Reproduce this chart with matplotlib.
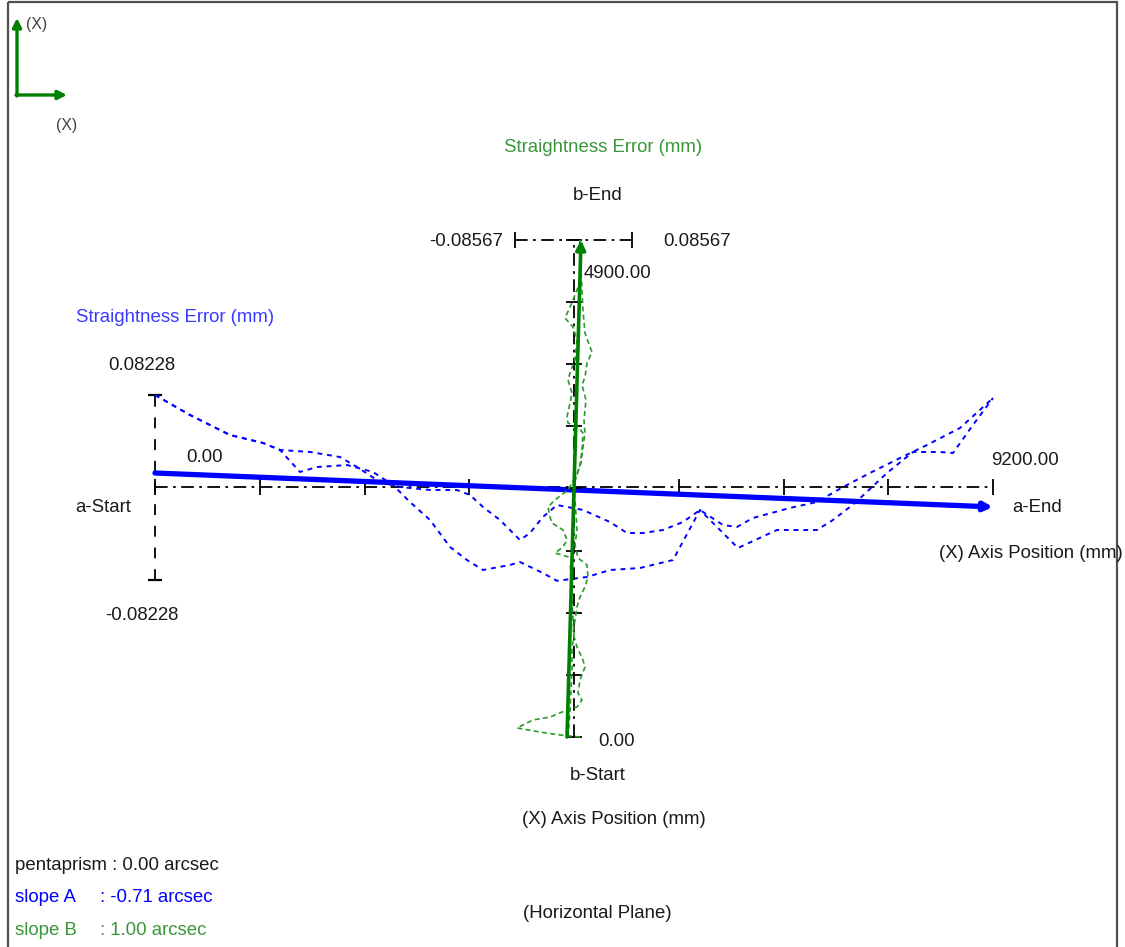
import matplotlib.pyplot as plt
from matplotlib.patches import Rectangle

# ---- axis a (horizontal): position (mm) and straightness error (mm)
a_len = 9200.0
a_range = 0.08228
a_ticks = 8
a_run1_pos = [0, 384, 823, 1186, 1372, 1592, 1778, 2108, 2393, 2613, 2799, 3019, 3239, 3425,
              3601, 3897, 4007, 4259, 4413, 4743, 4995, 5324, 5687, 5983, 6400, 6828, 7267,
              7443, 7685, 8036, 8322, 8618, 8761, 8980, 9200]
a_run1_err = [0.0823, 0.0645, 0.0467, 0.0396, 0.0334, 0.0138, 0.0182, 0.0200, 0.0138, 0.0022,
              -0.0129, -0.0289, -0.0529, -0.0645, -0.0734, -0.0689, -0.0663, -0.0761, -0.0830,
              -0.0796, -0.0734, -0.0716, -0.0645, -0.0200, -0.0538, -0.0378, -0.0378, -0.0289,
              -0.0138, 0.0129, 0.0316, 0.0316, 0.0307, 0.0556, 0.0796]
a_run2_pos = [0, 384, 823, 1186, 1372, 1702, 2031, 2218, 2470, 2690, 3019, 3315, 3458, 3601,
              3787, 4007, 4117, 4259, 4413, 4699, 4995, 5182, 5357, 5577, 5796, 5983, 6236,
              6389, 6565, 6971, 7267, 7553, 7849, 8179, 8475, 8837, 9200]
a_run2_err = [0.0823, 0.0645, 0.0467, 0.0396, 0.0334, 0.0316, 0.0271, 0.0182, 0.0049, 0.0004,
              -0.0022, -0.0022, -0.0067, -0.0173, -0.0289, -0.0467, -0.0405, -0.0262, -0.0156,
              -0.0200, -0.0307, -0.0405, -0.0405, -0.0378, -0.0307, -0.0200, -0.0334, -0.0351,
              -0.0271, -0.0182, -0.0129, 0.0004, 0.0129, 0.0262, 0.0378, 0.0529, 0.0796]
a_fit = [0.0129, -0.0173]

# ---- axis b (vertical)
b_len = 4900.0
b_range = 0.08567
b_ticks = 8
b_run1_pos = [0, 20, 49, 89, 168, 197, 266, 296, 365, 434, 562, 690, 759, 887, 1025, 1154,
              1282, 1380, 1479, 1577, 1696, 1765, 1893, 2041, 2189, 2337, 2465, 2563, 2701,
              2859, 2997, 3125, 3323, 3470, 3549, 3687, 3796, 3845, 3983, 4210, 4407, 4604, 4900]
b_run1_err = [0.0095, -0.0198, -0.0491, -0.0828, -0.0593, -0.0344, -0.0095, 0.0051, 0.0124,
              0.0066, 0.0095, 0.0168, 0.0139, 0.0051, -0.0007, 0.0022, 0.0051, 0.0095, 0.0168,
              0.0212, 0.0198, 0.0066, 0.0022, 0.0051, 0.0037, 0.0022, 0.0007, 0.0037, 0.0110,
              0.0139, 0.0168, 0.0154, 0.0183, 0.0124, 0.0168, 0.0198, 0.0271, 0.0242, 0.0168,
              0.0139, 0.0124, 0.0110, 0.0095]
b_run2_pos = [0, 118, 266, 463, 661, 858, 1025, 1154, 1351, 1548, 1696, 1765, 1814, 1873, 1942,
              2041, 2110, 2169, 2268, 2337, 2435, 2504, 2583, 2682, 2830, 2997, 3056, 3096, 3155,
              3293, 3392, 3520, 3618, 3717, 3914, 4042, 4131, 4239, 4308, 4407, 4476, 4653, 4900]
b_run2_err = [-0.0081, -0.0066, -0.0051, -0.0037, -0.0022, -0.0022, 0.0007, -0.0007, -0.0022,
              -0.0022, -0.0051, -0.0022, -0.0271, -0.0154, -0.0095, -0.0154, -0.0315, -0.0344,
              -0.0373, -0.0271, -0.0081, -0.0022, 0.0051, 0.0095, 0.0124, 0.0139, 0.0066,
              -0.0081, -0.0095, -0.0051, -0.0022, -0.0081, -0.0037, 0.0022, 0.0051, -0.0007,
              -0.0124, -0.0051, -0.0007, 0.0051, 0.0095, 0.0095, 0.0095]
b_fit = [-0.0095, 0.0110]

pentaprism = 0.00
slope_a = -0.71
slope_b = 1.00

plt.rcParams['font.family'] = ['Liberation Sans', 'DejaVu Sans']
FS = 13.4
DARK = '#1a1a1a'
BLUE = '#0000ff'
BLUE_TXT = '#3a3aff'
GREEN = '#008000'
GREEN_DASH = '#2a9a2a'
GREEN_TXT = '#3a963a'

W, H = 1125, 947
fig = plt.figure(figsize=(W / 100, H / 100), dpi=100)

# background / frame and orientation icon in pixel space
bg = fig.add_axes([0, 0, 1, 1])
bg.set_xlim(0, W)
bg.set_ylim(H, 0)
bg.axis('off')
bg.add_patch(Rectangle((8, 2), 1109, 1000, fill=False, ec='#505050', lw=1.6))
arrow_kw = dict(arrowstyle='-|>', color=GREEN, lw=2.4, mutation_scale=13, shrinkA=0, shrinkB=0)
bg.annotate('', xy=(17, 18), xytext=(17, 96), arrowprops=arrow_kw)
bg.annotate('', xy=(67, 95), xytext=(16, 95), arrowprops=arrow_kw)
bg.text(26, 24, '(X)', fontsize=FS * 0.85, color='#404040', va='center', ha='left')
bg.text(67, 125, '(X)', fontsize=FS * 0.85, color='#404040', va='center', ha='center')


def fx(x):
    return x / W


def fy(y):
    return 1 - y / H


# ---- axis a
ax_a = fig.add_axes([fx(155), fy(580), (993 - 155) / W, (580 - 395) / H])
ax_a.set_xlim(0, a_len)
ax_a.set_ylim(-a_range, a_range)
ax_a.axis('off')

a_tick_pos = [i * a_len / a_ticks for i in range(a_ticks + 1)]
ax_a.plot([0, a_len], [0, 0], color='black', lw=1.3, dashes=(7, 3, 1.5, 3), clip_on=False)
ax_a.plot(a_tick_pos, [0] * len(a_tick_pos), ls='none', marker='|', ms=12, mew=1.3,
          color='black', clip_on=False)
ax_a.plot([0, 0], [-a_range, a_range], color='black', lw=1.3, dashes=(6, 6), clip_on=False)
ax_a.plot([0, 0], [-a_range, a_range], ls='none', marker='_', ms=10, mew=1.6,
          color='black', clip_on=False)

ax_a.plot(a_run1_pos, a_run1_err, color=BLUE, lw=1.4, dashes=(2.5, 2.5), clip_on=False)
ax_a.plot(a_run2_pos, a_run2_err, color=BLUE, lw=1.4, dashes=(2.5, 2.5), clip_on=False)
ax_a.annotate('', xy=(a_len, a_fit[1]), xytext=(0, a_fit[0]), annotation_clip=False,
              arrowprops=dict(arrowstyle='-|>', color=BLUE, lw=3.8, mutation_scale=12,
                              shrinkA=0, shrinkB=0))


def label(ax, xy, off, s, color=DARK, ha='center'):
    ax.annotate(s, xy=xy, xytext=off, textcoords='offset pixels', fontsize=FS, color=color,
                ha=ha, va='center', annotation_clip=False)


label(ax_a, (0, a_range), (20, 77), 'Straightness Error (mm)', BLUE_TXT)
label(ax_a, (0, a_range), (-13, 29), f'{a_range:.5f}')
label(ax_a, (0, -a_range), (-13, -35), f'{-a_range:.5f}')
label(ax_a, (0, a_fit[0]), (50, 15), f'{0:.2f}')
label(ax_a, (a_len, 0), (32, 27), f'{a_len:.2f}')
label(ax_a, (0, 0), (-52, -20), 'a-Start')
label(ax_a, (a_len, 0), (44, -20), 'a-End')
label(ax_a, (a_len, 0), (38, -66), '(X) Axis Position (mm)')

# ---- axis b
ax_b = fig.add_axes([fx(515), fy(737), (632 - 515) / W, (737 - 240) / H])
ax_b.set_xlim(-b_range, b_range)
ax_b.set_ylim(0, b_len)
ax_b.axis('off')

b_tick_pos = [i * b_len / b_ticks for i in range(b_ticks + 1)]
ax_b.plot([0, 0], [0, b_len], color='black', lw=1.3, dashes=(7, 3, 1.5, 3), clip_on=False)
ax_b.plot([0] * len(b_tick_pos), b_tick_pos, ls='none', marker='_', ms=12, mew=1.3,
          color='black', clip_on=False)
ax_b.plot([-b_range, b_range], [b_len, b_len], color='black', lw=1.3, dashes=(7, 3, 1.5, 3),
          clip_on=False)
ax_b.plot([-b_range, b_range], [b_len, b_len], ls='none', marker='|', ms=12, mew=1.3,
          color='black', clip_on=False)

ax_b.plot(b_run1_err, b_run1_pos, color=GREEN_DASH, lw=1.2, dashes=(3, 2), clip_on=False)
ax_b.plot(b_run2_err, b_run2_pos, color=GREEN_DASH, lw=1.2, dashes=(3, 2), clip_on=False)
ax_b.annotate('', xy=(b_fit[1], b_len), xytext=(b_fit[0], 0), annotation_clip=False,
              arrowprops=dict(arrowstyle='-|>', color=GREEN, lw=2.6, mutation_scale=14,
                              shrinkA=0, shrinkB=0))

label(ax_b, (0, b_len), (30, 92), 'Straightness Error (mm)', GREEN_TXT)
label(ax_b, (0, b_len), (24, 45), 'b-End')
label(ax_b, (-b_range, b_len), (-49, -2), f'{-b_range:.5f}')
label(ax_b, (b_range, b_len), (65, -2), f'{b_range:.5f}')
label(ax_b, (0, b_len), (10, -33), f'{b_len:.2f}', ha='left')
label(ax_b, (0, 0), (43, -5), f'{0:.2f}')
label(ax_b, (0, 0), (24, -39), 'b-Start')
label(ax_b, (0, 0), (40, -83), '(X) Axis Position (mm)')

# ---- footer
fig.text(fx(15), fy(865), f'pentaprism : {pentaprism:.2f} arcsec', fontsize=FS, color=DARK,
         va='center')
fig.text(fx(15), fy(897), 'slope A', fontsize=FS, color=BLUE, va='center')
fig.text(fx(100), fy(897), f': {slope_a:.2f} arcsec', fontsize=FS, color=BLUE, va='center')
fig.text(fx(15), fy(930), 'slope B', fontsize=FS, color=GREEN_TXT, va='center')
fig.text(fx(100), fy(930), f': {slope_b:.2f} arcsec', fontsize=FS, color=GREEN_TXT, va='center')
fig.text(fx(597), fy(913), '(Horizontal Plane)', fontsize=FS, color=DARK, ha='center',
         va='center')

fig.savefig('out.png', dpi=100)
